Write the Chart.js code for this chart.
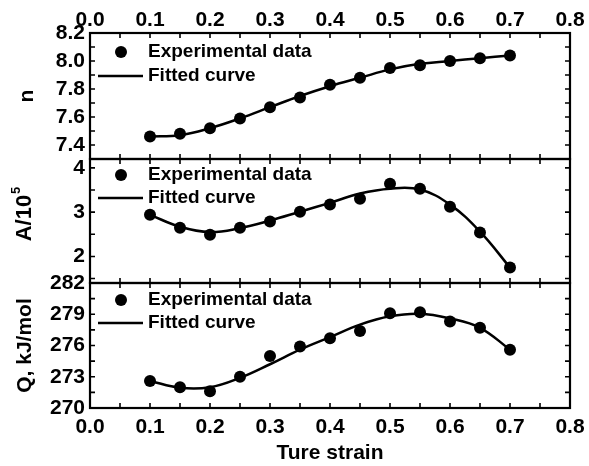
<!DOCTYPE html>
<html><head><meta charset="utf-8">
<script src="https://cdn.jsdelivr.net/npm/chart.js@4.4.1/dist/chart.umd.min.js"></script>
<style>
html,body{margin:0;padding:0;background:#fff;}
#wrap{position:relative;width:589px;height:466px;}
canvas{position:absolute;left:0;top:0;}
</style></head><body>
<div id="wrap">
<canvas id="c1" width="589" height="466"></canvas>
<canvas id="c2" width="589" height="466"></canvas>
<canvas id="c3" width="589" height="466"></canvas>
</div>
<script>
// ---- data ----
const strain = [0.10,0.15,0.20,0.25,0.30,0.35,0.40,0.45,0.50,0.55,0.60,0.65,0.70];
const nExp = [7.46,7.48,7.52,7.59,7.67,7.74,7.83,7.88,7.95,7.97,8.00,8.02,8.04];
const nFit = [7.46,7.47,7.52,7.59,7.67,7.75,7.82,7.88,7.94,7.98,8.00,8.02,8.04];
const aExp = [2.94,2.65,2.49,2.65,2.79,3.01,3.17,3.30,3.64,3.53,3.12,2.54,1.75];
const aFit = [2.94,2.67,2.55,2.64,2.81,3.01,3.21,3.42,3.53,3.51,3.17,2.56,1.75];
const qExp = [272.6,272.0,271.6,273.0,275.0,275.9,276.7,277.4,279.1,279.2,278.3,277.7,275.6];
const qFit = [272.6,271.95,272.0,272.9,274.2,275.6,276.8,278.0,278.8,279.05,278.6,277.7,275.6];

const xTicks = [0.0,0.1,0.2,0.3,0.4,0.5,0.6,0.7,0.8];
const xMinor = [0.0,0.05,0.1,0.15,0.2,0.25,0.3,0.35,0.4,0.45,0.5,0.55,0.6,0.65,0.7,0.75,0.8];
const nTicks = [7.4,7.6,7.8,8.0,8.2];
const nMinor = [7.3,7.4,7.5,7.6,7.7,7.8,7.9,8.0,8.1,8.2];
const aTicks = [2,3,4];
const aMinor = [1.5,2,2.5,3,3.5,4];
const qTicks = [270,273,276,279,282];
const qMinor = [270,271.5,273,274.5,276,277.5,279,280.5,282];

const legendExp = 'Experimental data';
const legendFit = 'Fitted curve';

// ---- drawing ----
const FF = '"Liberation Sans", Arial, sans-serif';
const tickFont = {family: FF, size: 21, weight: 'bold'};

const panelPlugin = {
  id: 'panel',
  afterDatasetsDraw(chart, args, o) {
    const {ctx, chartArea: a} = chart;
    const x = chart.scales.x, y = chart.scales.y;
    ctx.save();
    ctx.strokeStyle = '#000';
    ctx.lineWidth = 1.6;
    ctx.beginPath();
    xMinor.forEach(v => {
      const px = x.getPixelForValue(v);
      ctx.moveTo(px, a.top); ctx.lineTo(px, a.top + 5);
      ctx.moveTo(px, a.bottom); ctx.lineTo(px, a.bottom - 5);
    });
    o.yMinor.forEach(v => {
      const py = y.getPixelForValue(v);
      ctx.moveTo(a.left, py); ctx.lineTo(a.left + 5, py);
      ctx.moveTo(a.right, py); ctx.lineTo(a.right - 5, py);
    });
    ctx.stroke();
    ctx.lineWidth = 2.2;
    ctx.strokeRect(a.left, a.top, a.right - a.left, a.bottom - a.top);

    // legend
    ctx.fillStyle = '#000';
    ctx.font = 'bold 19px ' + FF;
    ctx.textBaseline = 'middle';
    ctx.textAlign = 'left';
    ctx.beginPath();
    ctx.arc(121, o.legY[0], 6, 0, Math.PI * 2);
    ctx.fill();
    ctx.fillText(legendExp, 148, o.legY[0]);
    ctx.beginPath();
    ctx.lineWidth = 2.5;
    ctx.moveTo(98, o.legY[1]); ctx.lineTo(143, o.legY[1]);
    ctx.stroke();
    ctx.fillText(legendFit, 148, o.legY[1]);

    // custom y title (A/10^5)
    if (o.aTitle) {
      ctx.translate(o.aTitle[0], o.aTitle[1]);
      ctx.rotate(-Math.PI / 2);
      ctx.font = 'bold 22px ' + FF;
      const w1 = ctx.measureText('A/10').width;
      ctx.font = 'bold 13px ' + FF;
      const w2 = ctx.measureText('5').width;
      const start = -(w1 + w2 + 1) / 2;
      ctx.font = 'bold 22px ' + FF;
      ctx.textBaseline = 'middle';
      ctx.fillText('A/10', start, 0);
      ctx.font = 'bold 13px ' + FF;
      ctx.fillText('5', start + w1 + 1, -9);
    }
    ctx.restore();
  }
};

function makeChart(id, c) {
  return new Chart(document.getElementById(id), {
    type: 'scatter',
    data: {
      datasets: [
        {label: legendExp, data: strain.map((s, i) => ({x: s, y: c.exp[i]})),
         pointRadius: 6, pointHoverRadius: 6, backgroundColor: '#000', borderColor: '#000', borderWidth: 0, showLine: false},
        {label: legendFit, data: strain.map((s, i) => ({x: s, y: c.fit[i]})),
         pointRadius: 0, showLine: true, borderColor: '#000', borderWidth: 2.5, tension: 0.4, fill: false}
      ]
    },
    options: {
      responsive: false, animation: false, devicePixelRatio: 1,
      layout: {padding: {left: 0, right: 19, top: c.padTop, bottom: c.padBottom}},
      plugins: {legend: {display: false}, tooltip: {enabled: false},
        panel: {yMinor: c.yMinor, legY: c.legY, aTitle: c.aTitle}},
      scales: {
        x: {
          type: 'linear', min: 0, max: 0.8, position: c.xPos || 'bottom', display: !!c.xPos,
          afterBuildTicks: s => { s.ticks = xTicks.map(v => ({value: v})); },
          afterFit: s => { s.height = c.xH || 0; s.paddingLeft = 0; s.paddingRight = 0; },
          ticks: {font: tickFont, color: '#000', padding: c.xPad || 0, autoSkip: false, maxRotation: 0,
                  callback: v => Number(v).toFixed(1)},
          grid: {display: false, drawTicks: false},
          border: {display: false},
          title: c.xTitle ? {display: true, text: c.xTitle, color: '#000',
                   font: {family: FF, size: 21, weight: 'bold'}, padding: {top: 0, bottom: 0}} : {display: false}
        },
        y: {
          type: 'linear', min: c.yMin, max: c.yMax, position: 'left',
          afterBuildTicks: s => { s.ticks = c.yTicks.map(v => ({value: v})); },
          afterFit: s => { s.width = 90; s.paddingTop = 0; s.paddingBottom = 0; },
          ticks: {font: tickFont, color: '#000', padding: 5, callback: c.fmt},
          grid: {display: false, drawTicks: false},
          border: {display: false},
          title: c.yTitle ? {display: true, text: c.yTitle, color: '#000',
                   font: {family: FF, size: 21, weight: 'bold'}, padding: {top: c.yTitlePad, bottom: 0}} : {display: false}
        }
      }
    },
    plugins: [panelPlugin]
  });
}

makeChart('c1', {exp: nExp, fit: nFit, yMin: 7.3, yMax: 8.2, yTicks: nTicks, yMinor: nMinor,
  fmt: v => Number(v).toFixed(1), padTop: 0, padBottom: 466 - 159, xPos: 'top', xH: 33, xPad: 0,
  yTitle: 'n', yTitlePad: 15, legY: [52, 76]});
makeChart('c2', {exp: aExp, fit: aFit, yMin: 1.4, yMax: 4.2, yTicks: aTicks, yMinor: aMinor,
  fmt: v => String(v), padTop: 159, padBottom: 466 - 283,
  legY: [175, 198], aTitle: [25, 214]});
makeChart('c3', {exp: qExp, fit: qFit, yMin: 270, yMax: 282, yTicks: qTicks, yMinor: qMinor,
  fmt: v => String(v), padTop: 283, padBottom: 0, xPos: 'bottom', xH: 466 - 408, xPad: 7,
  xTitle: 'Ture strain', yTitle: 'Q, kJ/mol', yTitlePad: 13, legY: [300, 323]});
</script>
</body></html>
